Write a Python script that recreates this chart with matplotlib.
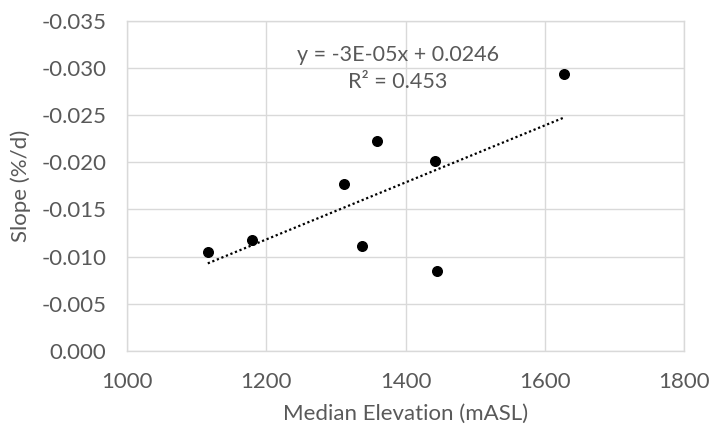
import numpy as np
import matplotlib
matplotlib.use("Agg")
import matplotlib.pyplot as plt

elev = [1116, 1180, 1312, 1337, 1359, 1442, 1445, 1628]
slope = [-0.0105, -0.0118, -0.0177, -0.0111, -0.0223, -0.0201, -0.0085, -0.0294]
xticks = [1000, 1200, 1400, 1600, 1800]
yticks = [0.000, -0.005, -0.010, -0.015, -0.020, -0.025, -0.030, -0.035]

plt.rcParams['font.family'] = ['Lato', 'DejaVu Sans']
gray_txt = '#595959'
grid_c = '#d9d9d9'

fig = plt.figure(figsize=(7.12, 4.30), dpi=100)
ax = fig.add_axes([0.1784, 0.1837, 0.9607 - 0.1784, 0.9519 - 0.1837])

ax.scatter(elev, slope, s=48, color='black', zorder=3)

coef = np.polyfit(elev, slope, 1)
xs = np.array([min(elev), max(elev)])
ax.plot(xs, np.polyval(coef, xs), color='black', linestyle=(0, (1, 1.2)), linewidth=1.6, zorder=2)

ax.set_xlim(1000, 1800)
ax.set_ylim(0.0, -0.035)
ax.set_xticks(xticks)
ax.set_yticks(yticks)
ax.set_xticklabels([str(t) for t in xticks])
ax.set_yticklabels([f"{t:.3f}" if t != 0 else "0.000" for t in yticks])
ax.tick_params(axis='both', length=0, labelsize=16, colors=gray_txt)
ax.tick_params(axis='x', pad=15)
ax.tick_params(axis='y', pad=15)
ax.grid(True, color=grid_c, linewidth=1)
ax.set_axisbelow(True)
for s in ax.spines.values():
    s.set_color(grid_c)
    s.set_linewidth(1)

ax.set_xlabel("Median Elevation (mASL)", fontsize=16, color=gray_txt, labelpad=9)
ax.set_ylabel("Slope (%/d)", fontsize=16, color=gray_txt, labelpad=7)

ax.text(1389, -0.03136, "y = -3E-05x + 0.0246", fontsize=15.5, color=gray_txt, ha='center', va='center')
ax.text(1389, -0.0285, "R² = 0.453", fontsize=15.5, color=gray_txt, ha='center', va='center')

fig.savefig("out.png", dpi=100)
